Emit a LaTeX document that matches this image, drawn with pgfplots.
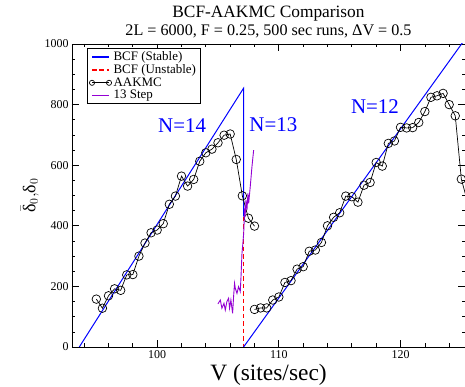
\documentclass[border=0pt]{standalone}
\usepackage{fontspec}
\setmainfont{Liberation Serif}
\usepackage{pgfplots}
\pgfplotsset{compat=1.18}
\definecolor{grviolet}{RGB}{148,0,211}
\definecolor{grred}{RGB}{255,0,0}
\definecolor{grblue}{RGB}{0,0,255}
\begin{document}
\begin{tikzpicture}
\begin{axis}[
  at={(0,0)}, anchor=south west,
  scale only axis, width=393bp, height=303bp,
  xmin=93, xmax=125.3, ymin=0, ymax=1000,
  xtick={100,110,120}, minor xtick={94,96,...,124},
  ytick={0,200,...,1000}, minor ytick={50,100,...,950},
  tick align=inside,
  major tick length=7bp, minor tick length=3.5bp,
  axis line style={line width=0.8pt},
  every tick/.style={black, line width=0.7pt},
  /pgf/number format/assume math mode=true,
  /pgf/number format/1000 sep={},
  ticklabel style={font=\fontsize{12}{14}\selectfont},
  xlabel={V (sites/sec)},
  xlabel style={font=\fontsize{23.5}{27}\selectfont, yshift=1bp},
  ylabel={$\bar{\mbox{δ}}_{0}{,}\mbox{δ}_{0}$},
  ylabel style={font=\fontsize{18}{20}\selectfont, yshift=-1bp},
  title={{\fontsize{17.4}{18}\selectfont BCF-AAKMC Comparison}\\2L = 6000, F = 0.25, 500 sec runs, ΔV = 0.5},
  title style={align=center, font=\fontsize{16.2}{17.5}\selectfont, yshift=-3bp},
  legend style={at={(0.037,0.987)}, anchor=north west, draw=black, line width=0.8pt,
    font=\fontsize{13}{14}\selectfont, inner xsep=2.5pt, inner ysep=1.5pt, row sep=-1.5pt},
  every legend image post/.style={line width=1.2pt},
  legend cell align=left,
  clip marker paths=true,
]
\addplot[draw=grblue, line width=1pt] coordinates {(93.6,0) (107.1,854) (107.1,430)};
\addlegendentry{BCF (Stable)}
\addplot[draw=grred, line width=1.1pt, dash pattern=on 4.5pt off 3pt] coordinates {(107.1,430) (107.1,0)};
\addlegendentry{BCF (Unstable)}
\addplot[black, line width=0.7pt, mark=o, mark size=4.3pt, mark options={line width=0.7pt},
  legend image code/.code={\draw[line width=0.7pt,mark repeat=2,mark phase=1,mark size=2.6pt] plot coordinates {(0cm,0cm) (0.3cm,0cm) (0.6cm,0cm)};}]
 coordinates {
(95,158) (95.5,128) (96,169) (96.5,192) (97,187) (97.5,238) (98,239) (98.5,300)
(99,343) (99.5,377) (100,386) (100.5,407) (101,471) (101.5,498) (102,564) (102.5,531)
(103,553) (103.5,613) (104,641) (104.5,653) (105,674) (105.5,699) (106,703) (106.5,619)
(107,499) (107.5,425) (108,399)};
\addlegendentry{AAKMC}
\addplot[draw=grviolet, line width=0.9pt] coordinates {
(104.99,142) (105.19,155) (105.32,128) (105.49,144) (105.60,122) (105.73,150) (105.87,161)
(105.95,128) (106.06,155) (106.20,111) (106.28,166) (106.36,210) (106.42,194) (106.56,177)
(106.69,199) (106.83,183) (106.89,232) (106.97,309) (107.02,331) (107.11,375) (107.19,452)
(107.24,441) (107.30,485) (107.38,452) (107.46,507) (107.52,474) (107.65,529) (107.79,595)
(107.93,650)};
\addlegendentry{13 Step}
\addplot[draw=grblue, line width=1pt, forget plot] coordinates {(107.1,0) (125.5,1027)};
\addplot[black, line width=0.7pt, mark=o, mark size=4.3pt, mark options={line width=0.7pt}, forget plot]
 coordinates {
(108,124) (108.5,129) (109,129) (109.5,155) (110,165) (110.5,213) (111,219) (111.5,257)
(112,265) (112.5,316) (113,320) (113.5,345) (114,400) (114.5,428) (115,443) (115.5,498)
(116,496) (116.5,478) (117,534) (117.5,543) (118,609) (118.5,597) (119,672) (119.5,680)
(120,725) (120.5,723) (121,724) (121.5,741) (122,777) (122.5,824) (123,829) (123.5,837)
(124,800) (124.5,763) (125,554) (125.5,480)};
\node[text=grblue, font=\fontsize{21}{24}\selectfont] at (axis cs:102.05,731) {N=14};
\node[text=grblue, font=\fontsize{21}{24}\selectfont] at (axis cs:109.55,733) {N=13};
\node[text=grblue, font=\fontsize{21}{24}\selectfont] at (axis cs:117.9,795) {N=12};
\end{axis}
\pgfresetboundingbox
\path (-72bp,-40bp) rectangle (393bp,347bp);
\end{tikzpicture}
\end{document}
